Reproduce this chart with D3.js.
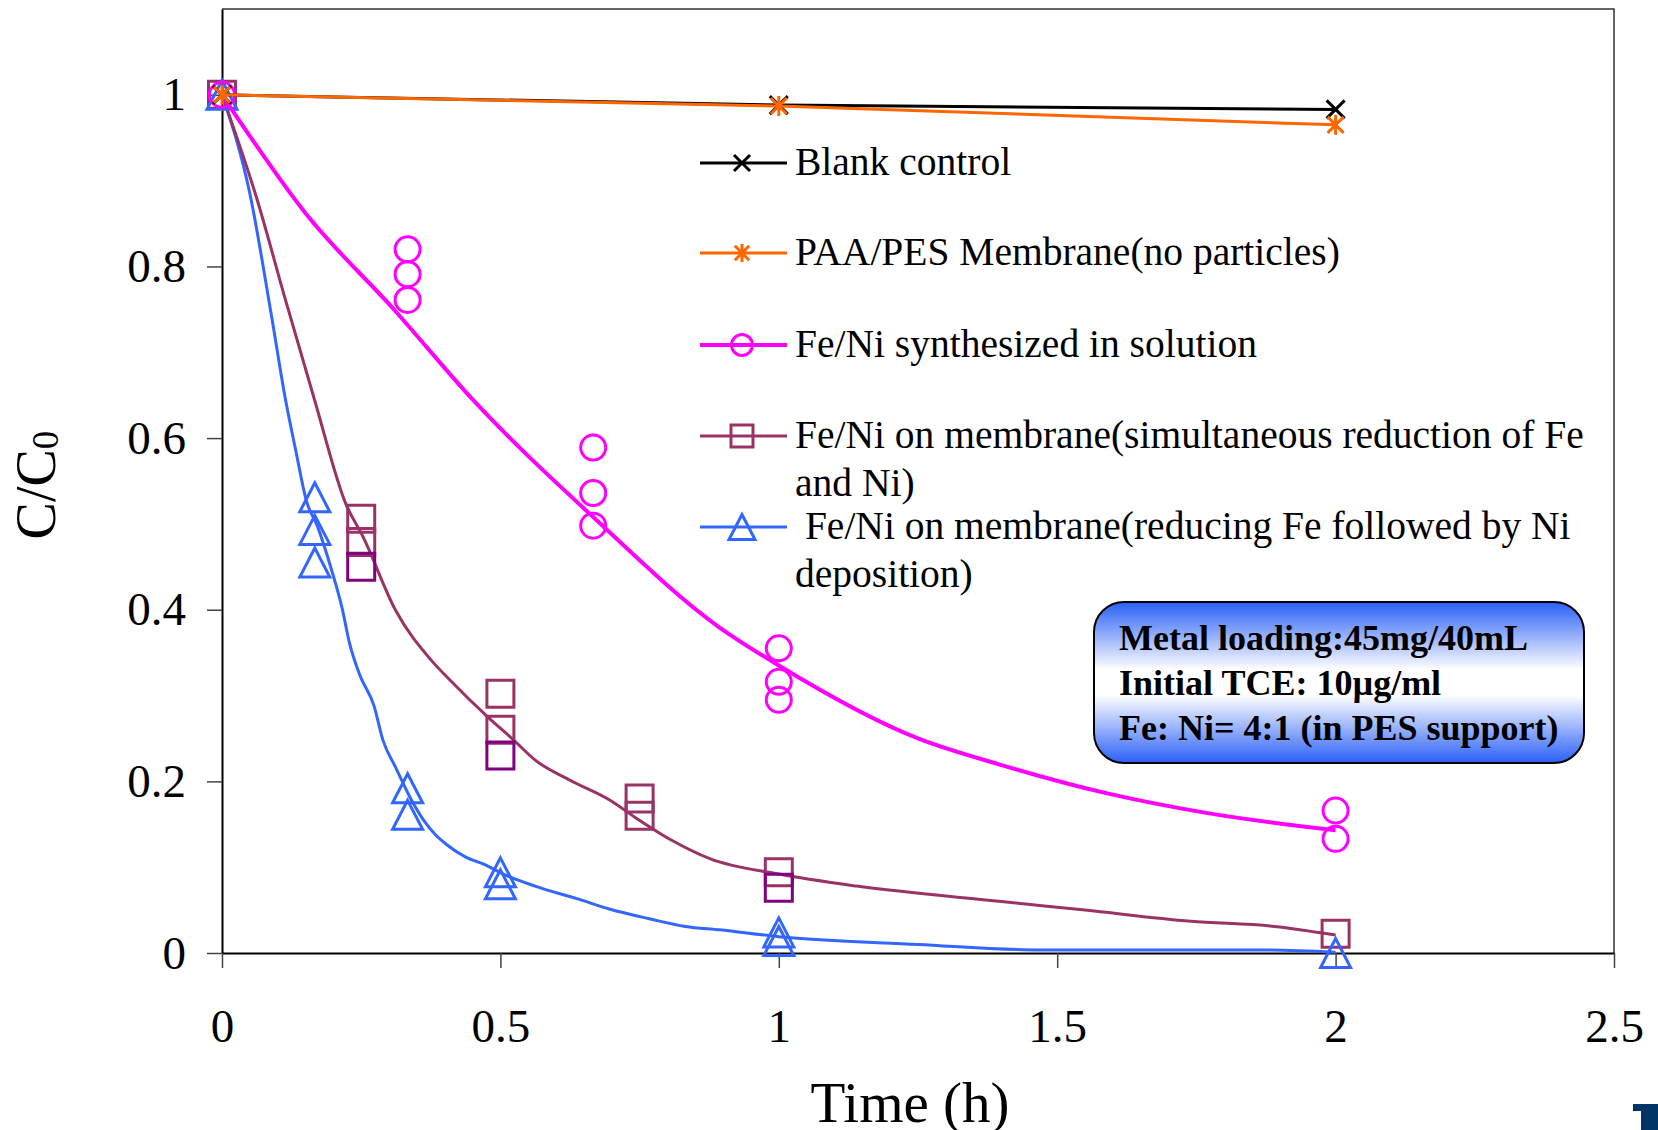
<!DOCTYPE html>
<html>
<head>
<meta charset="utf-8">
<script src="https://cdn.jsdelivr.net/npm/d3@7"></script>
<style>
  body { margin: 0; background: #fff; }
  svg { display: block; }
  text { font-family: "Liberation Serif", "Times New Roman", serif; }
</style>
</head>
<body>
<svg id="chart" width="1658" height="1130"></svg>
<script>
// ---- data ----
var xTicks = [0, 0.5, 1, 1.5, 2, 2.5];
var yTicks = [0, 0.2, 0.4, 0.6, 0.8, 1];

var blankTimes = [0, 1, 2];
var blankValues = [1, 0.988, 0.983];

var paaTimes = [0, 1, 2];
var paaValues = [1, 0.987, 0.965];

// replicate measurements, one row per sampling time
var solutionTimes = [0, 1/3, 2/3, 1, 2];
var solutionReps = [[1], [0.82, 0.791, 0.761], [0.589, 0.536, 0.498], [0.355, 0.316, 0.295], [0.166, 0.133]];
var solutionFit = [[0, 1], [0.15, 0.862], [0.31, 0.749], [0.45, 0.645], [0.67, 0.506], [0.89, 0.381],
                   [1.0, 0.335], [1.25, 0.25], [1.4, 0.219], [1.59, 0.186], [1.77, 0.163], [2.0, 0.143]];

var simulTimes = [0, 0.25, 0.5, 0.75, 1, 2];
var simulReps = [[1], [0.506, 0.479, 0.45], [0.302, 0.26, 0.23], [0.18, 0.16], [0.094, 0.076], [0.0225]];
var simulDark = [[0], [0, 0, 1], [0, 0, 1], [0, 0], [0, 1], [0]];
var simulFit = [[0, 1], [0.063, 0.878], [0.114, 0.761], [0.166, 0.645], [0.222, 0.524], [0.254, 0.484],
                [0.312, 0.399], [0.376, 0.341], [0.408, 0.319], [0.479, 0.274], [0.524, 0.248], [0.562, 0.225],
                [0.626, 0.201], [0.697, 0.178], [0.742, 0.158], [0.806, 0.132], [0.876, 0.11], [1.0, 0.092],
                [1.14, 0.078], [1.4, 0.06], [1.55, 0.05], [1.74, 0.037], [1.89, 0.031], [2.0, 0.021]];

var seqTimes = [0, 1/6, 1/3, 0.5, 1, 2];
var seqReps = [[1], [0.531, 0.493, 0.455], [0.192, 0.161], [0.094, 0.08], [0.024, 0.014], [0.0]];
var seqFit = [[0, 1], [0.05, 0.885], [0.089, 0.742], [0.114, 0.645], [0.132, 0.587], [0.152, 0.526],
              [0.171, 0.498], [0.196, 0.448], [0.216, 0.401], [0.229, 0.361], [0.248, 0.323], [0.273, 0.288],
              [0.289, 0.248], [0.312, 0.216], [0.338, 0.181], [0.363, 0.154], [0.383, 0.138], [0.402, 0.127],
              [0.437, 0.112], [0.472, 0.103], [0.505, 0.092], [0.562, 0.078], [0.639, 0.063], [0.697, 0.051],
              [0.767, 0.04], [0.832, 0.031], [0.894, 0.027], [1.0, 0.019], [1.25, 0.01], [1.47, 0.0035],
              [1.87, 0.0035], [2.0, 0.001]];

var legendNames = [
    ["Blank control"],
    ["PAA/PES Membrane(no particles)"],
    ["Fe/Ni synthesized in solution"],
    ["Fe/Ni on membrane(simultaneous reduction of Fe", "and Ni)"],
    ["\u00a0Fe/Ni on membrane(reducing Fe followed by Ni", "deposition)"]
];
var boxLines = ["Metal loading:45mg/40mL", "Initial TCE: 10\u00b5g/ml", "Fe: Ni= 4:1 (in PES support)"];

// ---- setup ----
var svg = d3.select("#chart");
var plotLeft = 222, plotRight = 1614, plotTop = 9, plotBottom = 953;

var x = d3.scaleLinear().domain([0, 2.5]).range([plotLeft, plotRight]);
var y = d3.scaleLinear().domain([0, 1.1]).range([plotBottom, plotTop]);

var colors = {
    blank: "#000000",
    paa: "#ff6600",
    sol: "#ff00ff",
    simul: "#993366",
    simulDark: "#800080",
    seq: "#3366ff"
};

// marker paths, centred on 0,0
function squarePath(s) { var h = s / 2; return "M" + (-h) + "," + (-h) + "H" + h + "V" + h + "H" + (-h) + "Z"; }
function trianglePath(w, h) { return "M0," + (-h / 2) + "L" + (w / 2) + "," + (h / 2) + "L" + (-w / 2) + "," + (h / 2) + "Z"; }
function timesPath(r) { return "M" + (-r) + "," + (-r) + "L" + r + "," + r + "M" + (-r) + "," + r + "L" + r + "," + (-r); }
function asteriskPath(r) { return timesPath(r * 0.8) + "M0," + (-r) + "V" + r; }

// ---- frame and axes ----
svg.append("rect").attr("width", 1658).attr("height", 1130).attr("fill", "#fff");

svg.append("path")
    .attr("d", "M" + plotLeft + "," + plotTop + "H" + plotRight + "V" + plotBottom)
    .attr("fill", "none").attr("stroke", "#333").attr("stroke-width", 1.5);

var yAxis = svg.append("g")
    .attr("transform", "translate(" + plotLeft + ",0)")
    .call(d3.axisLeft(y).tickValues(yTicks).tickSize(15).tickSizeOuter(0).tickPadding(21).tickFormat(d3.format("~g")));

var xAxis = svg.append("g")
    .attr("transform", "translate(0," + plotBottom + ")")
    .call(d3.axisBottom(x).tickValues(xTicks).tickSize(15).tickSizeOuter(0).tickPadding(41).tickFormat(d3.format("~g")));

[yAxis, xAxis].forEach(function(a){
    a.select(".domain").attr("stroke", "#000").attr("stroke-width", 2);
    a.selectAll(".tick line").attr("stroke", "#444").attr("stroke-width", 1.5);
    a.selectAll(".tick text").attr("font-size", 47).attr("fill", "#000")
        .style("font-family", "'Liberation Serif', serif");
});

// axis titles
var yTitle = svg.append("text")
    .attr("transform", "translate(55,485) rotate(-90)")
    .attr("text-anchor", "middle")
    .attr("font-size", 56);
yTitle.append("tspan").text("C/C");
yTitle.append("tspan").attr("font-size", 37).attr("dy", 3).text("0");

svg.append("text")
    .attr("x", 910).attr("y", 1122)
    .attr("text-anchor", "middle")
    .attr("font-size", 57)
    .text("Time (h)");

// ---- fitted curves ----
var line = d3.line()
    .x(function(d){ return x(d[0]); })
    .y(function(d){ return y(d[1]); })
    .curve(d3.curveMonotoneX);

svg.append("path").datum(seqFit).attr("d", line)
    .attr("fill", "none").attr("stroke", colors.seq).attr("stroke-width", 3);
svg.append("path").datum(simulFit).attr("d", line)
    .attr("fill", "none").attr("stroke", colors.simul).attr("stroke-width", 3);

function flatten(times, reps) {
    var out = [];
    times.forEach(function(t, i){
        reps[i].forEach(function(v, j){ out.push({t: t, v: v, i: i, j: j}); });
    });
    return out;
}

// replicate markers
svg.append("g").selectAll("path")
    .data(flatten(simulTimes, simulReps))
    .enter().append("path")
    .attr("transform", function(d){ return "translate(" + x(d.t) + "," + y(d.v) + ")"; })
    .attr("d", squarePath(27))
    .attr("fill", "none")
    .attr("stroke", function(d){ return simulDark[d.i][d.j] ? colors.simulDark : colors.simul; })
    .attr("stroke-width", 3);

svg.append("g").selectAll("path")
    .data(flatten(seqTimes, seqReps))
    .enter().append("path")
    .attr("transform", function(d){ return "translate(" + x(d.t) + "," + y(d.v) + ")"; })
    .attr("d", trianglePath(30, 29))
    .attr("fill", "none").attr("stroke", colors.seq).attr("stroke-width", 3)
    .attr("stroke-linejoin", "miter");

svg.append("g").selectAll("circle")
    .data(flatten(solutionTimes, solutionReps))
    .enter().append("circle")
    .attr("cx", function(d){ return x(d.t); })
    .attr("cy", function(d){ return y(d.v); })
    .attr("r", 12.5)
    .attr("fill", "none").attr("stroke", colors.sol).attr("stroke-width", 3);

svg.append("path").datum(solutionFit).attr("d", line)
    .attr("fill", "none").attr("stroke", colors.sol).attr("stroke-width", 4);

// controls
var straight = d3.line()
    .x(function(d){ return x(d[0]); })
    .y(function(d){ return y(d[1]); });

svg.append("path").datum(d3.zip(blankTimes, blankValues)).attr("d", straight)
    .attr("fill", "none").attr("stroke", colors.blank).attr("stroke-width", 3);
svg.append("g").selectAll("path")
    .data(d3.zip(blankTimes, blankValues))
    .enter().append("path")
    .attr("transform", function(d){ return "translate(" + x(d[0]) + "," + y(d[1]) + ")"; })
    .attr("d", timesPath(9))
    .attr("stroke", colors.blank).attr("stroke-width", 3);

svg.append("path").datum(d3.zip(paaTimes, paaValues)).attr("d", straight)
    .attr("fill", "none").attr("stroke", colors.paa).attr("stroke-width", 3);
svg.append("g").selectAll("path")
    .data(d3.zip(paaTimes, paaValues))
    .enter().append("path")
    .attr("transform", function(d){ return "translate(" + x(d[0]) + "," + y(d[1]) + ")"; })
    .attr("d", asteriskPath(10))
    .attr("stroke", colors.paa).attr("stroke-width", 3);

// ---- legend ----
var legendRows = [163, 253, 345, 436, 527];
var legendStyles = [
    {c: colors.blank, m: "times"},
    {c: colors.paa, m: "asterisk"},
    {c: colors.sol, m: "circle"},
    {c: colors.simul, m: "square"},
    {c: colors.seq, m: "triangle"}
];

var legend = svg.append("g");
legendNames.forEach(function(lines, i){
    var ly = legendRows[i], st = legendStyles[i];
    legend.append("line")
        .attr("x1", 700).attr("x2", 787).attr("y1", ly).attr("y2", ly)
        .attr("stroke", st.c).attr("stroke-width", st.m === "circle" ? 4 : 3);
    var mk;
    if (st.m === "circle") {
        mk = legend.append("circle").attr("cx", 742).attr("cy", ly).attr("r", 10.5).attr("fill", "none");
    } else {
        var d = st.m === "times" ? timesPath(8) : st.m === "asterisk" ? asteriskPath(9)
              : st.m === "square" ? squarePath(22) : trianglePath(26, 25);
        mk = legend.append("path").attr("transform", "translate(742," + ly + ")").attr("d", d).attr("fill", "none");
    }
    mk.attr("stroke", st.c).attr("stroke-width", 3);

    var t = legend.append("text").attr("x", 795).attr("y", ly + 12).attr("font-size", 39.5);
    lines.forEach(function(s, k){
        t.append("tspan").attr("x", 795).attr("dy", k === 0 ? 0 : 48).text(s);
    });
});

// ---- info box ----
var grad = svg.append("defs").append("linearGradient")
    .attr("id", "boxFill").attr("x1", 0).attr("y1", 0).attr("x2", 0).attr("y2", 1);
grad.append("stop").attr("offset", "0%").attr("stop-color", "#2a5ff7");
grad.append("stop").attr("offset", "42%").attr("stop-color", "#ffffff");
grad.append("stop").attr("offset", "58%").attr("stop-color", "#ffffff");
grad.append("stop").attr("offset", "100%").attr("stop-color", "#2a5ff7");

svg.append("rect")
    .attr("x", 1094).attr("y", 602).attr("width", 490).attr("height", 161)
    .attr("rx", 30).attr("ry", 30)
    .attr("fill", "url(#boxFill)").attr("stroke", "#000").attr("stroke-width", 2);

svg.append("g").selectAll("text")
    .data(boxLines)
    .enter().append("text")
    .attr("x", 1119)
    .attr("y", function(d, i){ return 650 + i * 45; })
    .attr("font-size", 36).attr("font-weight", "bold")
    .text(function(d){ return d; });

// corner logo fragment
svg.append("path")
    .attr("d", "M1633,1104H1658V1130H1641V1111H1633Z")
    .attr("fill", "#003366");
</script>
</body>
</html>
